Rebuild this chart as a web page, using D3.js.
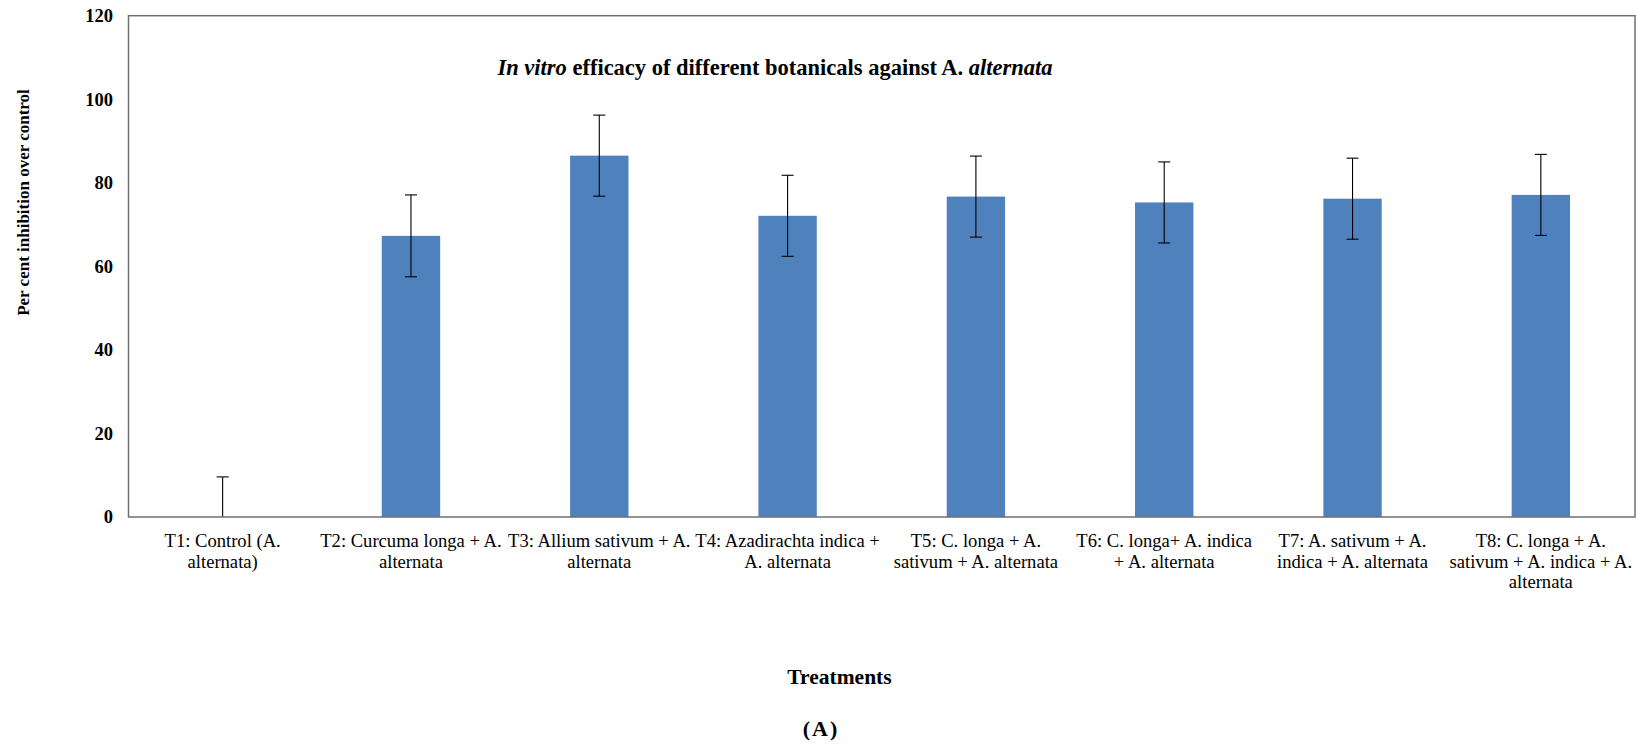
<!DOCTYPE html>
<html>
  <head>
    <meta charset="utf-8">
    <script src="https://cdn.jsdelivr.net/npm/d3@7"></script>
    <style>
      body { margin: 0; background: #fff; }
    </style>
  </head>
<body>
  <script type="text/javascript">
    "use strict";

    // treatments, as in the figure (label lines wrap the way the original does)
    var treatments = ["T1", "T2", "T3", "T4", "T5", "T6", "T7", "T8"];
    var labelLines = [
      ["T1: Control (A.", "alternata)"],
      ["T2: Curcuma longa + A.", "alternata"],
      ["T3: Allium sativum + A.", "alternata"],
      ["T4: Azadirachta indica +", "A. alternata"],
      ["T5: C. longa + A.", "sativum + A. alternata"],
      ["T6: C. longa+ A. indica", "+ A. alternata"],
      ["T7: A. sativum + A.", "indica + A. alternata"],
      ["T8: C. longa + A.", "sativum + A. indica + A.", "alternata"]
    ];
    // per cent inhibition over control
    var inhibition = [0, 67.3, 86.5, 72.1, 76.7, 75.3, 76.2, 77.1];
    var errors = [9.6, 9.8, 9.7, 9.7, 9.7, 9.7, 9.7, 9.7];
    var yTicks = [0, 20, 40, 60, 80, 100, 120];

    var FONT = "'Liberation Serif', 'Times New Roman', serif";
    var width = 1638, height = 744;
    var plotL = 128.5, plotR = 1635, plotT = 15.7, plotB = 517;

    var svg = d3.select("body").append("svg")
        .attr("width", width)
        .attr("height", height);

    var x = d3.scaleBand().domain(treatments).range([plotL, plotR]).padding(0);
    var y = d3.scaleLinear().domain([0, 120]).range([plotB, plotT]);
    var barW = x.bandwidth() * 0.31;

    // bars
    svg.append("g").selectAll("rect")
        .data(treatments)
        .enter().append("rect")
          .attr("x", function (d) { return x(d) + (x.bandwidth() - barW) / 2; })
          .attr("y", function (d, i) { return y(inhibition[i]); })
          .attr("width", barW)
          .attr("height", function (d, i) { return y(0) - y(inhibition[i]); })
          .style("fill", "#4f81bd");

    // error bars (clipped at the axis like Excel does)
    var eb = svg.append("g").selectAll("g")
        .data(treatments)
        .enter().append("g")
          .attr("transform", function (d) { return "translate(" + (x(d) + x.bandwidth() / 2) + ",0)"; });
    eb.append("line")
        .attr("y1", function (d, i) { return y(inhibition[i] + errors[i]); })
        .attr("y2", function (d, i) { return y(Math.max(0, inhibition[i] - errors[i])); })
        .style("stroke", "#000").style("stroke-width", 1.1);
    eb.append("line")
        .attr("x1", -6).attr("x2", 6)
        .attr("y1", function (d, i) { return y(inhibition[i] + errors[i]); })
        .attr("y2", function (d, i) { return y(inhibition[i] + errors[i]); })
        .style("stroke", "#000").style("stroke-width", 1.1);
    eb.filter(function (d, i) { return inhibition[i] - errors[i] > 0; })
      .append("line")
        .attr("x1", -6).attr("x2", 6)
        .attr("y1", function (d) { var i = treatments.indexOf(d); return y(inhibition[i] - errors[i]); })
        .attr("y2", function (d) { var i = treatments.indexOf(d); return y(inhibition[i] - errors[i]); })
        .style("stroke", "#000").style("stroke-width", 1.1);

    // plot frame
    svg.append("rect")
        .attr("x", plotL).attr("y", plotT)
        .attr("width", plotR - plotL).attr("height", plotB - plotT)
        .style("fill", "none").style("stroke", "#6f6f6f").style("stroke-width", 1.5);

    // y axis
    var yAxis = svg.append("g")
        .attr("transform", "translate(" + plotL + ",0)")
        .call(d3.axisLeft(y).tickValues(yTicks).tickSize(0).tickPadding(15.5));
    yAxis.select(".domain").remove();
    yAxis.selectAll("text")
        .style("font-family", FONT)
        .style("font-size", "18.5px")
        .style("font-weight", "bold")
        .attr("fill", "#000");

    // x labels
    var xl = svg.append("g").selectAll("text")
        .data(treatments)
        .enter().append("text")
          .attr("x", function (d) { return x(d) + x.bandwidth() / 2; })
          .attr("y", 547)
          .attr("text-anchor", "middle")
          .style("font-family", FONT)
          .style("font-size", "18.6px")
          .style("fill", "#000");
    xl.selectAll("tspan")
        .data(function (d, i) { return labelLines[i]; })
        .enter().append("tspan")
          .attr("x", function () { return this.parentNode.getAttribute("x"); })
          .attr("dy", function (d, j) { return j === 0 ? 0 : 20.5; })
          .text(function (d) { return d; });

    // title
    var title = svg.append("text")
        .attr("x", 775).attr("y", 75)
        .attr("text-anchor", "middle")
        .style("font-family", FONT)
        .style("font-size", "22.5px")
        .style("font-weight", "bold");
    title.append("tspan").style("font-style", "italic").text("In vitro");
    title.append("tspan").text(" efficacy of different botanicals against A. ");
    title.append("tspan").style("font-style", "italic").text("alternata");

    // axis titles
    svg.append("text")
        .attr("transform", "translate(29," + 202.5 + ") rotate(-90)")
        .attr("text-anchor", "middle")
        .style("font-family", FONT)
        .style("font-size", "17px")
        .style("font-weight", "bold")
        .text("Per cent inhibition over control");

    svg.append("text")
        .attr("x", 839.5).attr("y", 684)
        .attr("text-anchor", "middle")
        .style("font-family", FONT)
        .style("font-size", "21.5px")
        .style("font-weight", "bold")
        .text("Treatments");

    svg.append("text")
        .attr("x", 821).attr("y", 736)
        .attr("text-anchor", "middle")
        .style("font-family", FONT)
        .style("font-size", "22px")
        .style("letter-spacing", "2px")
        .style("font-weight", "bold")
        .text("(A)");
  </script>
</body>
</html>
